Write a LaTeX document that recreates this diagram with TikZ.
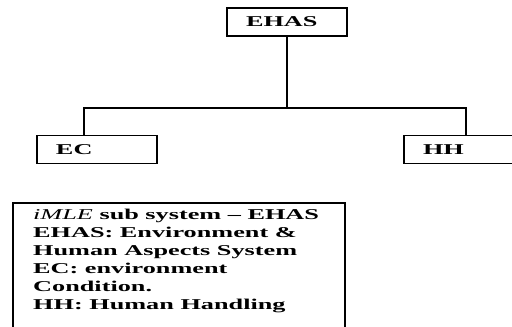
\documentclass[tikz,border=0pt]{standalone}
\usepackage{fontspec}
\setmainfont{Liberation Serif}[FakeStretch=1.75]
\begin{document}
\begin{tikzpicture}[x=1pt,y=1pt,
  box/.style={draw=black, line width=1.2pt, minimum width=120pt, minimum height=28pt,
    inner xsep=19pt, inner ysep=0pt, text width=82pt, align=left,
    font=\fontsize{15}{18}\selectfont\bfseries},
  conn/.style={draw=black, line width=1.2pt},
  legendbox/.style={draw=black, line width=1.2pt},
  legendtext/.style={inner sep=0pt, anchor=north west, align=left,
    font=\fontsize{15}{18}\selectfont\bfseries}]
\useasboundingbox (0,0) rectangle (512,-327);
\clip (0,0) rectangle (512,-327);
\fill[white] (0,0) rectangle (512,-327);
\node[box] (ehas) at (287,-22) {EHAS};
\node[box] (ec) at (97,-149.5) {EC};
\node[box] (hh) at (464,-149.5) {HH};
\coordinate (j) at (287,-108);
\draw[conn] (ehas.south) -- (j);
\draw[conn] (j) -| ([xshift=-13pt]ec.north);
\draw[conn] (j) -| ([xshift=2pt]hh.north);
\draw[legendbox] (13,-203) rectangle (345,-340);
\node[legendtext] (legend) at (33,-209) {{\mdseries\itshape iMLE} sub system -- EHAS\\
EHAS: Environment \&\\
Human Aspects System\\
EC: environment\\
Condition.\\
HH: Human Handling};
\end{tikzpicture}
\end{document}
